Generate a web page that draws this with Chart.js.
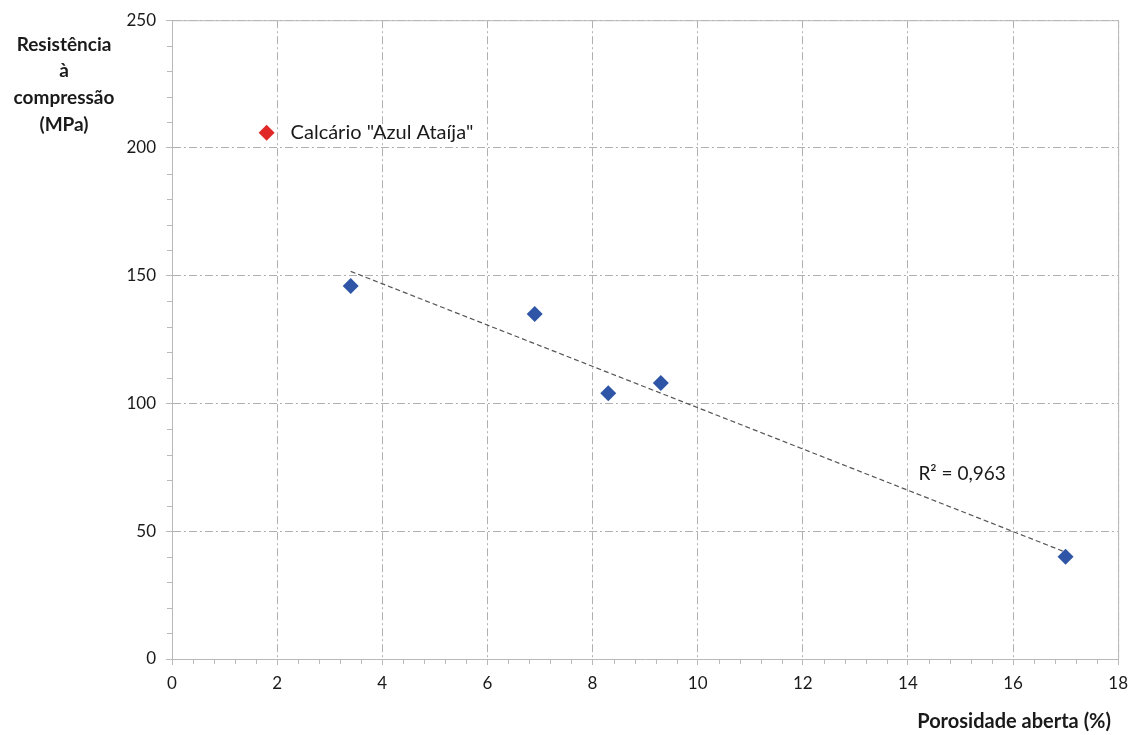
<!DOCTYPE html>
<html>
<head>
<meta charset="utf-8">
<script src="https://cdn.jsdelivr.net/npm/chart.js@4"></script>
<style>
  html, body { margin: 0; padding: 0; background: #fff; }
  #wrap { width: 1136px; height: 735px; position: relative; }
</style>
</head>
<body>
<div id="wrap"><canvas id="c" width="1136" height="735"></canvas></div>
<script>
// Porosidade aberta (%) vs resistência à compressão (MPa)
const porosity = [3.4, 6.9, 8.3, 9.3, 17.0];
const strength = [146, 135, 104, 108, 40];

// Highlighted stone
const highlightPorosity = [1.8];
const highlightStrength = [206];
const highlightLabel = 'Calcário "Azul Ataíja"';

// Linear trend line end points and its fit quality
const trendX = [3.4, 17.0];
const trendY = [151.7, 41.8];
const trendLabel = 'R² = 0,963';

const xTicks = [0, 2, 4, 6, 8, 10, 12, 14, 16, 18];
const yTicks = [0, 50, 100, 150, 200, 250];

const yTitleLines = ['Resistência', 'à', 'compressão', '(MPa)'];
const xTitle = 'Porosidade aberta (%)';

const FONT = 'Lato, "Open Sans", sans-serif';
const gridColor = '#b0b0b0';
const axisColor = '#b9b9b9';

const extras = {
  id: 'extras',
  afterDraw(chart) {
    const { ctx, chartArea: a, scales: { x, y } } = chart;
    ctx.save();
    // frame on top and right
    ctx.strokeStyle = axisColor;
    ctx.lineWidth = 1;
    ctx.setLineDash([]);
    ctx.beginPath();
    ctx.moveTo(a.left, a.top + 0.5);
    ctx.lineTo(a.right + 0.5, a.top + 0.5);
    ctx.lineTo(a.right + 0.5, a.bottom);
    ctx.stroke();
    // minor ticks
    ctx.beginPath();
    for (let v = 10; v < 250; v += 10) {
      if (v % 50 === 0) continue;
      const py = Math.round(y.getPixelForValue(v)) + 0.5;
      ctx.moveTo(a.left - 5, py);
      ctx.lineTo(a.left, py);
    }
    for (let i = 1; i < 45; i++) {
      if (i % 5 === 0) continue;
      const px = Math.round(x.getPixelForValue(i * 0.4)) + 0.5;
      ctx.moveTo(px, a.bottom);
      ctx.lineTo(px, a.bottom + 5);
    }
    ctx.stroke();

    // point labels
    ctx.fillStyle = '#1a1a1a';
    ctx.font = '20px ' + FONT;
    ctx.textBaseline = 'middle';
    ctx.textAlign = 'left';
    ctx.fillText(highlightLabel,
      x.getPixelForValue(highlightPorosity[0]) + 24,
      y.getPixelForValue(highlightStrength[0]));
    ctx.font = '19px ' + FONT;
    ctx.fillText(trendLabel, x.getPixelForValue(14.2), y.getPixelForValue(72.5));

    // axis titles
    ctx.font = 'bold 19px ' + FONT;
    ctx.textAlign = 'center';
    const ys = [45, 71, 98, 125];
    yTitleLines.forEach((t, i) => ctx.fillText(t, 64, ys[i]));
    ctx.font = 'bold 20px ' + FONT;
    ctx.textAlign = 'right';
    ctx.fillText(xTitle, 1111, 722);
    ctx.restore();
  }
};

const gridOpts = {
  color: gridColor,
  tickBorderDash: [],
  tickColor: axisColor,
  tickLength: 6,
  drawTicks: true
};
const borderOpts = { color: axisColor, width: 1, dash: [8, 3, 2, 3] };

new Chart(document.getElementById('c'), {
  type: 'scatter',
  data: {
    datasets: [
      {
        data: porosity.map((p, i) => ({ x: p, y: strength[i] })),
        pointStyle: 'rectRot',
        pointRadius: 8,
        pointHoverRadius: 8,
        backgroundColor: '#2f56a6',
        borderColor: '#2f56a6',
        borderWidth: 0,
        order: 1
      },
      {
        data: highlightPorosity.map((p, i) => ({ x: p, y: highlightStrength[i] })),
        pointStyle: 'rectRot',
        pointRadius: 8,
        backgroundColor: '#e02828',
        borderColor: '#e02828',
        borderWidth: 0,
        order: 1
      },
      {
        type: 'line',
        data: trendX.map((p, i) => ({ x: p, y: trendY[i] })),
        borderColor: '#555',
        borderWidth: 1.2,
        borderDash: [5, 3],
        pointRadius: 0,
        fill: false,
        order: 2
      }
    ]
  },
  options: {
    responsive: false,
    animation: false,
    devicePixelRatio: 1,
    layout: { padding: { top: 18, right: 17, left: 0, bottom: 0 } },
    plugins: { legend: { display: false }, tooltip: { enabled: false } },
    scales: {
      x: {
        type: 'linear',
        min: 0, max: 18,
        afterBuildTicks: s => { s.ticks = xTicks.map(v => ({ value: v })); },
        afterFit: s => { s.height = 76; },
        grid: gridOpts,
        border: borderOpts,
        ticks: { color: '#1a1a1a', font: { family: FONT, size: 17 }, padding: 8, maxRotation: 0 }
      },
      y: {
        type: 'linear',
        min: 0, max: 250,
        afterBuildTicks: s => { s.ticks = yTicks.map(v => ({ value: v })); },
        afterFit: s => { s.width = 172; },
        grid: gridOpts,
        border: borderOpts,
        ticks: { color: '#1a1a1a', font: { family: FONT, size: 17 }, padding: 10 }
      }
    }
  },
  plugins: [extras]
});
</script>
</body>
</html>
